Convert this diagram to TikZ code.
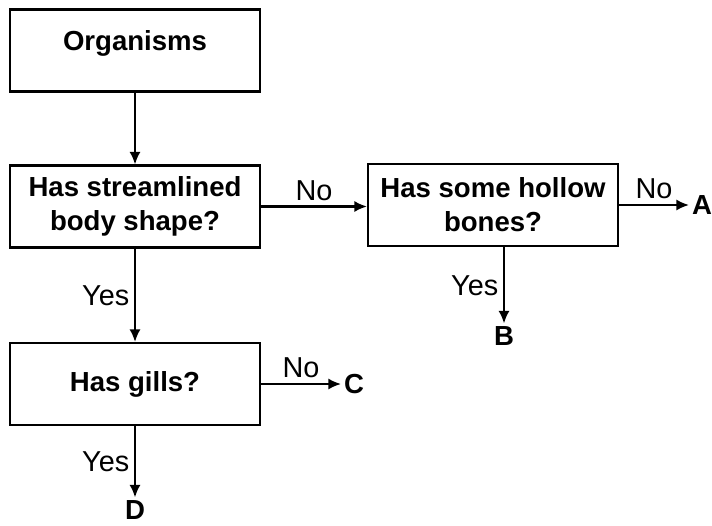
\documentclass[tikz,border=0pt]{standalone}
\usepackage{fontspec}
\setmainfont{Liberation Sans}
\usepackage{tikz}
\usetikzlibrary{arrows.meta}
\tikzstyle{qbox} = [draw=black, fill=white, line width=1.5pt,
rectangle, minimum width=6.25cm, minimum height=2.05cm, align=center,
font=\fontsize{19.6}{24}\selectfont\bfseries]
\tikzstyle{answer} = [font=\fontsize{20.5}{24}\selectfont]
\tikzstyle{leaf} = [font=\fontsize{19.6}{24}\selectfont\bfseries, inner sep=2pt]
\tikzstyle{link} = [line width=1.5pt, -{Latex[length=9pt,width=8pt]}]

\begin{document}
\begin{tikzpicture}[x=0.025cm, y=-0.025cm]
        \useasboundingbox (0,0) rectangle (712,526);
        % question boxes
        \node [qbox, text depth=0.5cm] (org) at (135,50.5) {Organisms};
        \node [qbox] (stream) at (135,206.5) {Has streamlined\\body shape?};
        \node [qbox] (hollow) at (493,205) {Has some hollow\\bones?};
        \node [qbox] (gills) at (135,384) {Has gills?};
        % outcomes
        \node [leaf] (A) at (702,205) {A};
        \node [leaf] (B) at (504,336) {B};
        \node [leaf] (C) at (354,384) {C};
        \node [leaf] (D) at (135,510) {D};
        % connectors
        \draw [link] (org) -- (stream);
        \draw [link] (stream.east) -- node[answer, above] {No} (stream.east -| hollow.west);
        \draw [link] (hollow.east) -- node[answer, above] {No} (hollow.east -| A.west);
        \draw [link] (hollow.south -| B) -- node[answer, left] {Yes} (B.north);
        \draw [link] (stream) -- node[answer, left] {Yes} (gills);
        \draw [link] (gills.east) -- node[answer, above] {No} (gills.east -| C.west);
        \draw [link] (gills.south -| D) -- node[answer, left] {Yes} (D.north);
    \end{tikzpicture}
\end{document}
